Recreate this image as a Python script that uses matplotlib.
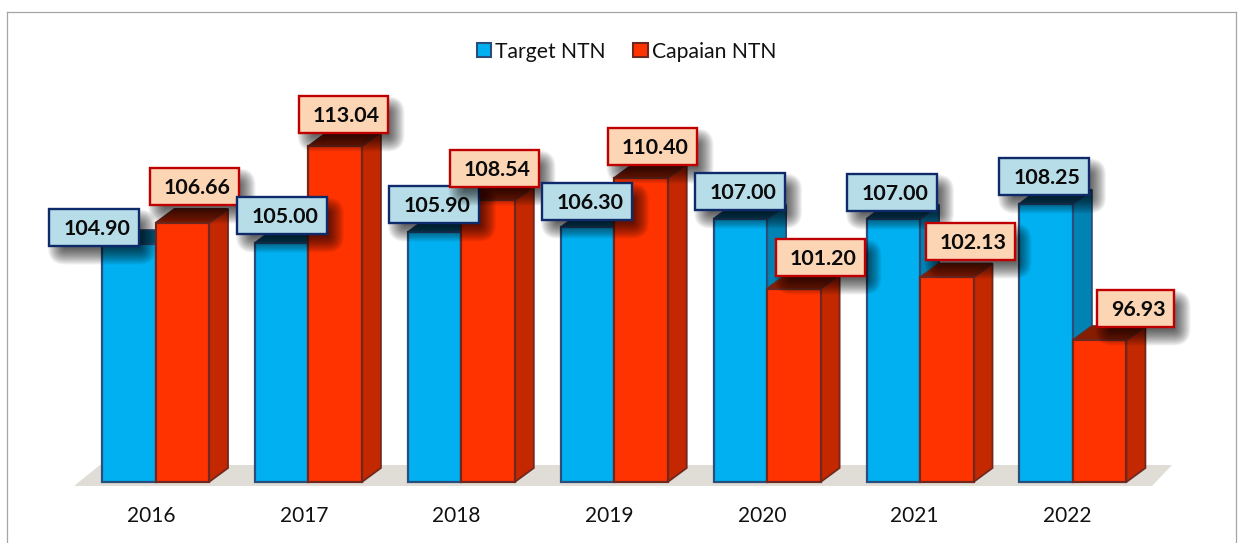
import matplotlib
matplotlib.use("Agg")
import matplotlib.pyplot as plt
from matplotlib.patches import Rectangle, Polygon, Patch, FancyBboxPatch
from matplotlib.lines import Line2D
from matplotlib.transforms import IdentityTransform, ScaledTranslation

plt.rcParams['font.family'] = ['Lato', 'DejaVu Sans']

years = ['2016', '2017', '2018', '2019', '2020', '2021', '2022']
target = [104.90, 105.00, 105.90, 106.30, 107.00, 107.00, 108.25]
capaian = [106.66, 113.04, 108.54, 110.40, 101.20, 102.13, 96.93]
series_names = ['Target NTN', 'Capaian NTN']

W, H = 1238, 543
PX_X = 152.9      # pixels per category
PX_Y = 12.04      # pixels per value unit
BASE_VAL = 85.14
AX_L, AX_R, AX_T, AX_B = 74, 1172, 12, 482
C0 = 155.5

fig = plt.figure(figsize=(W / 100, H / 100), dpi=100, facecolor='white')
ax = fig.add_axes([AX_L / W, 1 - AX_B / H, (AX_R - AX_L) / W, (AX_B - AX_T) / H])
ax.set_xlim((AX_L - C0) / PX_X, (AX_R - C0) / PX_X)
ax.set_ylim(BASE_VAL, BASE_VAL + (AX_B - AX_T) / PX_Y)
ax.patch.set_alpha(0)
for s in ax.spines.values():
    s.set_visible(False)
ax.set_yticks([])
ax.set_xticks(range(len(years)))
ax.set_xticklabels(years, fontsize=15.0, color='#111111')
ax.tick_params(axis='x', length=0, pad=17)
for i, lbl in enumerate(ax.get_xticklabels()):
    shift = ScaledTranslation((-4 - 0.33 * i) / 100, 0, fig.dpi_scale_trans)
    lbl.set_transform(lbl.get_transform() + shift)

# outer frame, open at the bottom
for xs, ys in [((7, 7), (12, 543)), ((7, 1236), (12, 12)), ((1236, 1236), (12, 543))]:
    fig.add_artist(Line2D([x / W for x in xs], [1 - y / H for y in ys],
                          color='#A6A6A6', lw=0.9))

DX, DY = 19 / PX_X, 14 / PX_Y     # depth of the 3-D look
BW = 53.5 / PX_X
FLOOR = '#E0DDD6'

# floor
ax.add_patch(Polygon([((74 - C0) / PX_X, BASE_VAL - 4 / PX_Y),
                      ((1152 - C0) / PX_X, BASE_VAL - 4 / PX_Y),
                      ((1172 - C0) / PX_X, BASE_VAL + 17 / PX_Y),
                      ((100 - C0) / PX_X, BASE_VAL + 17 / PX_Y)],
                     closed=True, fc=FLOOR, ec='none', zorder=1, clip_on=False))


def bar3d(x0, val, front, side, top, edge, z):
    x1 = x0 + BW
    ax.add_patch(Polygon([(x1, BASE_VAL), (x1 + DX, BASE_VAL + DY), (x1 + DX, val + DY), (x1, val)],
                         closed=True, fc=side, ec=edge, lw=1.3, zorder=z, clip_on=False))
    ax.add_patch(Polygon([(x0, val), (x1, val), (x1 + DX, val + DY), (x0 + DX, val + DY)],
                         closed=True, fc=top, ec=edge, lw=1.3, zorder=z, clip_on=False))
    ax.add_patch(Rectangle((x0, BASE_VAL), BW, val - BASE_VAL, fc=front, ec=edge, lw=1.6,
                           zorder=z + 0.1, clip_on=False))


for i, (t, c) in enumerate(zip(target, capaian)):
    z = 2 + i * 0.01
    bar3d(i - BW, t, '#00B0F0', '#0082B2', '#04577A', '#2A4E7C', z)
    bar3d(i, c, '#FF3300', '#C42800', '#861C00', '#70281E', z + 0.2)

# hand-placed data labels: centre of each box, in pixels
t_pos = [(94, 227), (282, 215), (434, 204), (587, 201), (740, 191), (892, 192), (1044, 176)]
c_pos = [(194, 186), (343, 114), (494, 168), (652, 146), (820, 257), (970, 241), (1135, 308)]


def to_data(px, py):
    return (px - C0) / PX_X, BASE_VAL + (AX_B - py) / PX_Y


def label(val, pos, w, fc, ec, z=5):
    x, y = to_data(*pos)
    bw, bh = w / PX_X, 37 / PX_Y
    # soft shadow, drawn in device pixels
    h = 37
    cx, cy = pos[0] + 8, H - (pos[1] + 10)
    for g in range(0, 17):
        sw, sh = w - 14, h - 14
        ax.add_patch(FancyBboxPatch((cx - sw / 2, cy - sh / 2), sw, sh,
                                    boxstyle=f'round,pad={g},rounding_size={g + 1}',
                                    transform=IdentityTransform(), fc='black', ec='none',
                                    alpha=0.05, zorder=z, clip_on=False))
    ax.add_patch(Rectangle((x - bw / 2, y - bh / 2), bw, bh, fc=fc, ec=ec, lw=1.7,
                           zorder=z + 0.1, clip_on=False))
    ax.text(x + 3 / PX_X, y, f'{val:.2f}', ha='center', va='center_baseline', fontsize=15.4,
            fontweight='bold', color='#0A0A0A', zorder=z + 0.2)


for i in range(len(years)):
    label(target[i], t_pos[i], 90, '#B7DDE8', '#0F2A6B', 5 + i * 0.5)
for i in range(len(years)):
    w = 77 if capaian[i] < 100 else 89
    label(capaian[i], c_pos[i], w, '#FCD5B5', '#C00000', 5.2 + i * 0.5)

handles = [Patch(fc='#00B0F0', ec='#2A4E7C', lw=1.5, label=series_names[0]),
           Patch(fc='#FF3300', ec='#70281E', lw=1.5, label=series_names[1])]
fig.legend(handles=handles, loc='center', bbox_to_anchor=(626.5 / W, 1 - 51.5 / H), ncol=2,
           frameon=False, fontsize=15.2, handlelength=0.68, handleheight=0.68,
           handletextpad=0.2, columnspacing=1.3, labelcolor='#111111')

fig.savefig('out.png', dpi=100, facecolor='white')
